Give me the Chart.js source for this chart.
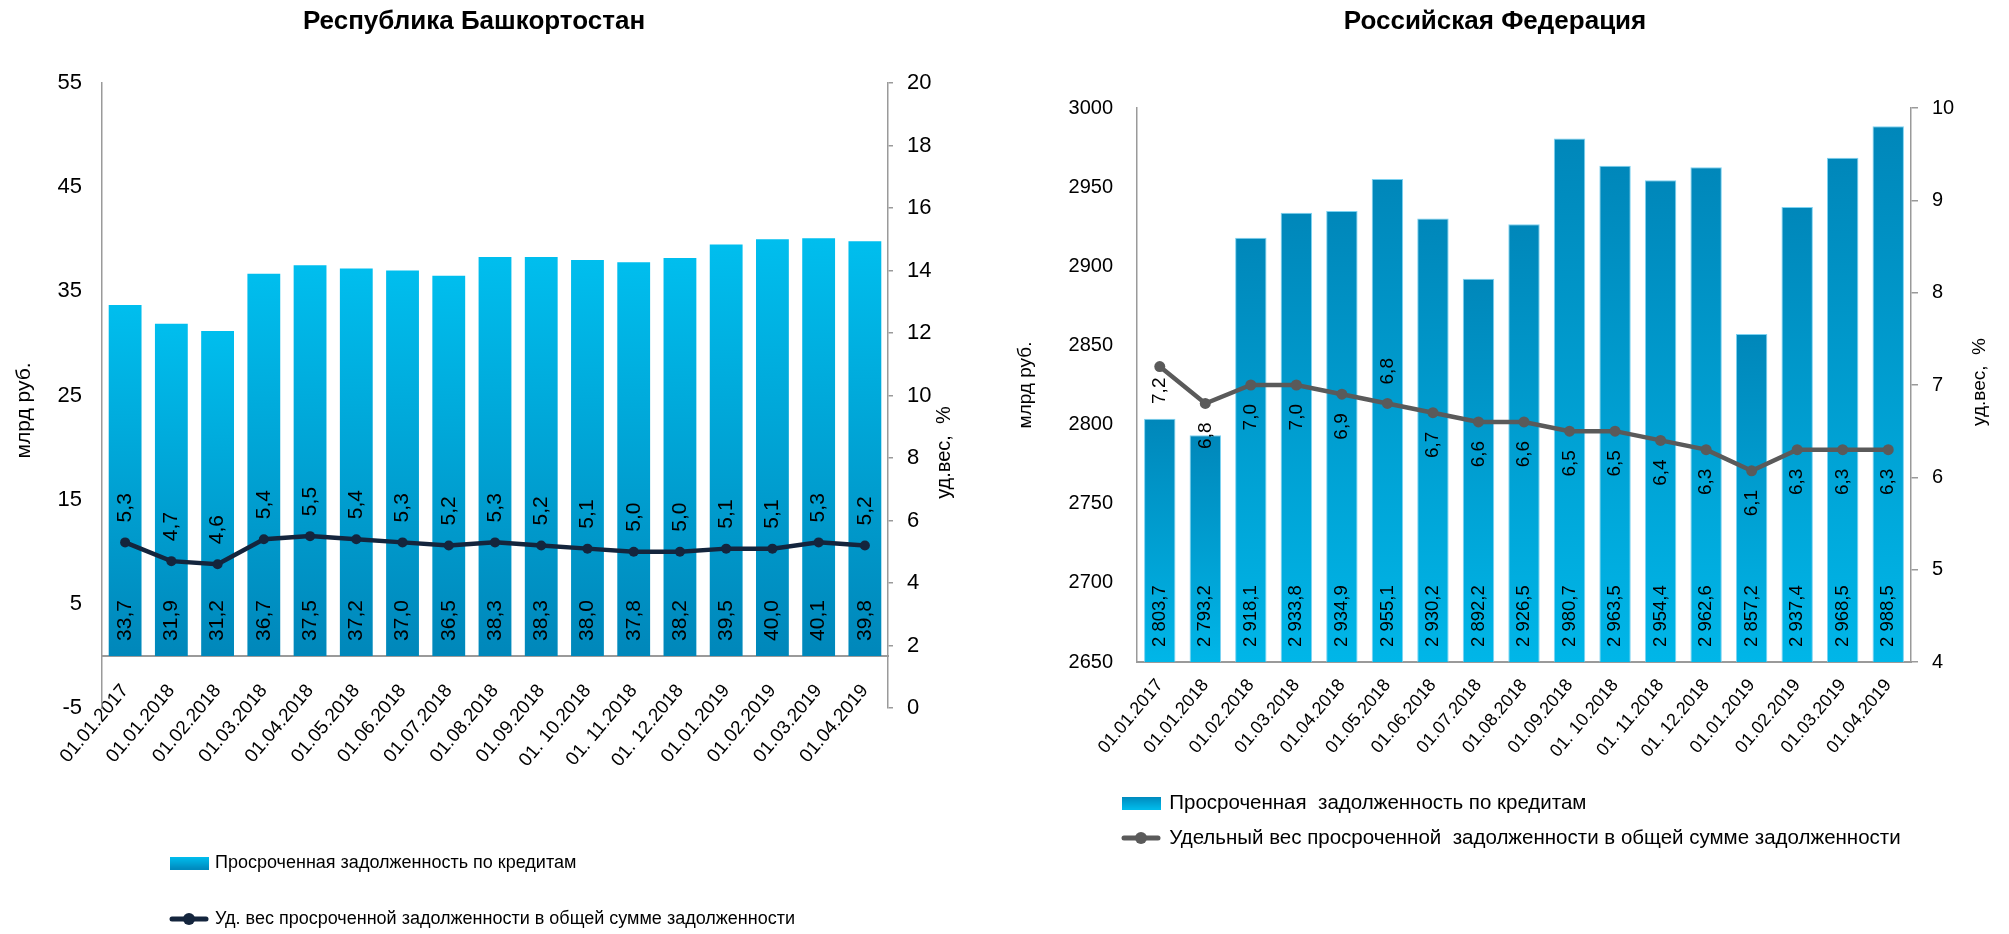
<!DOCTYPE html>
<html>
<head>
<meta charset="utf-8">
<script src="https://cdn.jsdelivr.net/npm/chart.js@4/dist/chart.umd.min.js"></script>
<style>
html,body{margin:0;padding:0;background:#fff;overflow:hidden;}
#wrap{position:relative;width:2009px;height:934px;background:#fff;}
#c1{position:absolute;left:0;top:0;}
#c2{position:absolute;left:1000px;top:0;}
</style>
</head>
<body>
<div id="wrap">
<canvas id="c1" width="1000" height="934"></canvas>
<canvas id="c2" width="1009" height="934"></canvas>
</div>
<script>
// ---------------- DATA ----------------
const categories = ['01.01.2017','01.01.2018','01.02.2018','01.03.2018','01.04.2018','01.05.2018','01.06.2018','01.07.2018','01.08.2018','01.09.2018','01. 10.2018','01. 11.2018','01. 12.2018','01.01.2019','01.02.2019','01.03.2019','01.04.2019'];

// Республика Башкортостан
const bashDebt  = [33.7, 31.9, 31.2, 36.7, 37.5, 37.2, 37.0, 36.5, 38.3, 38.3, 38.0, 37.8, 38.2, 39.5, 40.0, 40.1, 39.8];
const bashShare = [5.3, 4.7, 4.6, 5.4, 5.5, 5.4, 5.3, 5.2, 5.3, 5.2, 5.1, 5.0, 5.0, 5.1, 5.1, 5.3, 5.2];
const bashDebtTicks  = [-5, 5, 15, 25, 35, 45, 55];
const bashShareTicks = [0, 2, 4, 6, 8, 10, 12, 14, 16, 18, 20];

// Российская Федерация
const rfDebt  = [2803.7, 2793.2, 2918.1, 2933.8, 2934.9, 2955.1, 2930.2, 2892.2, 2926.5, 2980.7, 2963.5, 2954.4, 2962.6, 2857.2, 2937.4, 2968.5, 2988.5];
const rfShare = [7.2, 6.8, 7.0, 7.0, 6.9, 6.8, 6.7, 6.6, 6.6, 6.5, 6.5, 6.4, 6.3, 6.07, 6.3, 6.3, 6.3];
const rfDebtTicks  = [2650, 2700, 2750, 2800, 2850, 2900, 2950, 3000];
const rfShareTicks = [4, 5, 6, 7, 8, 9, 10];

// ---------------- HELPERS ----------------
const SANS = '"Liberation Sans", Arial, sans-serif';
const NARROW = '"Liberation Sans Narrow", "Arial Narrow", "Liberation Sans", sans-serif';
Chart.defaults.font.family = SANS;
Chart.defaults.color = '#000';

function fmt1(v) { return v.toFixed(1).replace('.', ','); }
function fmtThousands(v) {
  const p = v.toFixed(1).split('.');
  return p[0].replace(/\B(?=(\d{3})+(?!\d))/g, ' ') + ',' + p[1];
}

function barGradient(topColor, bottomColor) {
  return (c) => {
    const chart = c.chart;
    if (c.type !== 'data' || !chart.chartArea) return bottomColor;
    const meta = chart.getDatasetMeta(c.datasetIndex);
    const ys = chart.scales[meta.yAxisID];
    const v = c.parsed ? c.parsed.y : c.raw;
    const yTop = ys.getPixelForValue(v);
    const yBase = ys.getBasePixel();
    if (!isFinite(yTop) || !isFinite(yBase) || yTop === yBase) return bottomColor;
    const g = chart.ctx.createLinearGradient(0, yTop, 0, yBase);
    g.addColorStop(0, topColor);
    g.addColorStop(1, bottomColor);
    return g;
  };
}

function makeIcon(w, h, draw) {
  const c = document.createElement('canvas');
  c.width = w; c.height = h;
  draw(c.getContext('2d'), w, h);
  return c;
}
function rectIcon(top, bottom) {
  return makeIcon(39, 13, (g, w, h) => {
    const gr = g.createLinearGradient(0, 0, 0, h);
    gr.addColorStop(0, top); gr.addColorStop(1, bottom);
    g.fillStyle = gr; g.fillRect(0, 0, w, h);
  });
}
function lineIcon(color) {
  return makeIcon(40, 14, (g, w, h) => {
    g.strokeStyle = color; g.lineWidth = 5; g.lineCap = 'round';
    g.beginPath(); g.moveTo(3, h / 2); g.lineTo(w - 3, h / 2); g.stroke();
    g.fillStyle = color; g.beginPath(); g.arc(w / 2, h / 2, 6, 0, Math.PI * 2); g.fill();
  });
}

// value labels drawn rotated (reading bottom to top)
const valueLabels = {
  id: 'valueLabels',
  afterDatasetsDraw(chart) {
    const ctx = chart.ctx;
    const ca = chart.chartArea;
    chart.data.datasets.forEach((ds, di) => {
      const cfg = ds.valueLabels;
      if (!cfg) return;
      const meta = chart.getDatasetMeta(di);
      ctx.save();
      ctx.font = cfg.font;
      ctx.fillStyle = cfg.color || '#000';
      ctx.textBaseline = 'middle';
      meta.data.forEach((el, i) => {
        const text = cfg.format(ds.data[i]);
        let y, align;
        if (cfg.mode === 'base') {
          const base = Math.min(el.base, ca.bottom);
          y = base - cfg.offset; align = 'left';
        } else {
          const above = cfg.above ? cfg.above(i) : true;
          const off = cfg.offsetAt ? cfg.offsetAt(i) : cfg.offset;
          if (above) { y = el.y - off; align = 'left'; }
          else { y = el.y + off; align = 'right'; }
        }
        ctx.save();
        ctx.translate(el.x, y);
        ctx.rotate(-Math.PI / 2);
        ctx.textAlign = align;
        ctx.fillText(text, 0, 0);
        ctx.restore();
      });
      ctx.restore();
    });
  }
};

// axis titles drawn rotated -90deg
const axisTitles = {
  id: 'axisTitles',
  afterDraw(chart, args, opts) {
    const ctx = chart.ctx;
    const ca = chart.chartArea;
    (opts.items || []).forEach(t => {
      ctx.save();
      ctx.font = t.font;
      ctx.fillStyle = '#000';
      ctx.textAlign = 'center';
      ctx.textBaseline = 'middle';
      ctx.translate(t.x, (ca.top + ca.bottom) / 2 + t.dy);
      ctx.rotate(-Math.PI / 2);
      ctx.fillText(t.text, 0, 0);
      ctx.restore();
    });
  }
};

// place legend (one item per row) at a given spot below the plot
const legendPlace = {
  id: 'legendPlace',
  afterLayout(chart, args, opts) {
    const lg = chart.legend;
    if (!lg) return;
    lg.left = opts.x - opts.pad;
    lg.top = opts.y - opts.fs / 2 - opts.pad;
    lg.right = lg.left + 1200;
    lg.bottom = lg.top + 400;
    lg.width = 1200;
    lg.height = 400;
  }
};

function legendLabels(chart) {
  return chart.data.datasets.map((ds, i) => ({
    text: ds.label,
    pointStyle: ds.legendIcon,
    fillStyle: 'rgba(0,0,0,0)',
    strokeStyle: 'rgba(0,0,0,0)',
    lineWidth: 0,
    hidden: false,
    fontColor: '#000',
    datasetIndex: i
  }));
}

function fixedTicks(arr) {
  return (scale) => { scale.ticks = arr.map(v => ({ value: v })); };
}

// ---------------- CHART 1: Республика Башкортостан ----------------
new Chart(document.getElementById('c1'), {
  type: 'bar',
  data: {
    labels: categories,
    datasets: [
      {
        type: 'bar',
        label: 'Просроченная задолженность по кредитам',
        data: bashDebt,
        yAxisID: 'y',
        order: 2,
        backgroundColor: barGradient('#00BEEE', '#0087BA'),
        borderWidth: 0,
        barPercentage: 0.71,
        categoryPercentage: 1.0,
        legendIcon: rectIcon('#00C0F0', '#0088BC'),
        valueLabels: { mode: 'base', offset: 15, font: '21px ' + SANS, format: fmt1 }
      },
      {
        type: 'line',
        label: 'Уд. вес просроченной задолженности в общей сумме задолженности',
        data: bashShare,
        yAxisID: 'y1',
        order: 1,
        borderColor: '#14253D',
        backgroundColor: '#14253D',
        borderWidth: 4.5,
        pointRadius: 5,
        pointBackgroundColor: '#14253D',
        pointBorderWidth: 0,
        tension: 0,
        legendIcon: lineIcon('#14253D'),
        valueLabels: { mode: 'point', offset: 20, font: '21px ' + SANS, format: fmt1 }
      }
    ]
  },
  options: {
    responsive: false,
    animation: false,
    events: [],
    layout: { padding: { left: 0, right: 52, top: 0, bottom: 226 } },
    scales: {
      x: {
        type: 'category',
        position: { y: 0 },
        grid: { display: false, drawTicks: false },
        border: { display: true, color: '#9A9A9A', width: 2 },
        ticks: { autoSkip: false, minRotation: 50, maxRotation: 50, padding: 24, font: { size: 19 }, color: '#000' }
      },
      y: {
        position: 'left',
        min: -5, max: 55,
        afterBuildTicks: fixedTicks(bashDebtTicks),
        afterFit: (s) => { s.width = 102; },
        grid: { display: false, drawTicks: false },
        border: { display: true, color: '#9A9A9A', width: 1.5 },
        ticks: { padding: 20, font: { family: NARROW, size: 22 }, color: '#000', callback: (v) => String(v) }
      },
      y1: {
        position: 'right',
        min: 0, max: 20,
        afterBuildTicks: fixedTicks(bashShareTicks),
        afterFit: (s) => { s.width = 60; },
        grid: { display: true, drawOnChartArea: false, drawTicks: true, tickLength: 5, color: '#9A9A9A', lineWidth: 1.5 },
        border: { display: true, color: '#9A9A9A', width: 1.5 },
        ticks: { padding: 14, font: { family: NARROW, size: 22 }, color: '#000', callback: (v) => String(v) }
      }
    },
    plugins: {
      title: {
        display: true,
        text: 'Республика Башкортостан',
        color: '#000',
        font: { size: 26, weight: 'bold', family: SANS },
        padding: { top: 6.4, bottom: 45.4 }
      },
      legend: {
        display: true,
        position: 'chartArea',
        align: 'start',
        labels: {
          usePointStyle: true, pointStyleWidth: 34, boxHeight: 13,
          padding: 38, font: { size: 18 }, color: '#000',
          generateLabels: legendLabels
        }
      },
      legendPlace: { x: 172, y: 863, pad: 38, fs: 18 },
      tooltip: { enabled: false },
      axisTitles: {
        items: [
          { text: 'млрд руб.', x: 24, dy: 15, font: '21px ' + SANS },
          { text: 'уд.вес,  %', x: 944, dy: 57, font: '20px ' + SANS }
        ]
      }
    }
  },
  plugins: [valueLabels, axisTitles, legendPlace]
});

// ---------------- CHART 2: Российская Федерация ----------------
new Chart(document.getElementById('c2'), {
  type: 'bar',
  data: {
    labels: categories,
    datasets: [
      {
        type: 'bar',
        label: 'Просроченная  задолженность по кредитам',
        data: rfDebt,
        yAxisID: 'y',
        order: 2,
        backgroundColor: barGradient('#0087BA', '#00B6E8'),
        borderColor: 'rgba(110,205,240,0.9)',
        borderWidth: 1,
        barPercentage: 0.69,
        categoryPercentage: 1.0,
        legendIcon: rectIcon('#0088BC', '#00BCEC'),
        valueLabels: { mode: 'base', offset: 15, font: '18.5px ' + SANS, format: fmtThousands }
      },
      {
        type: 'line',
        label: 'Удельный вес просроченной  задолженности в общей сумме задолженности',
        data: rfShare,
        yAxisID: 'y1',
        order: 1,
        borderColor: '#5A5A5A',
        backgroundColor: '#5A5A5A',
        borderWidth: 4.5,
        pointRadius: 5.5,
        pointBackgroundColor: '#5A5A5A',
        pointBorderWidth: 0,
        tension: 0,
        legendIcon: lineIcon('#5A5A5A'),
        valueLabels: {
          mode: 'point', font: '19px ' + SANS, format: fmt1,
          above: (i) => i === 5,
          offsetAt: (i) => (i === 0 ? 11 : 19)
        }
      }
    ]
  },
  options: {
    responsive: false,
    animation: false,
    events: [],
    layout: { padding: { left: 0, right: 19, top: 0, bottom: 272 } },
    scales: {
      x: {
        type: 'category',
        position: { y: 2650 },
        grid: { display: false, drawTicks: false },
        border: { display: true, color: '#9A9A9A', width: 2 },
        ticks: { autoSkip: false, minRotation: 50, maxRotation: 50, padding: 13, font: { size: 18 }, color: '#000' }
      },
      y: {
        position: 'left',
        min: 2650, max: 3000,
        afterBuildTicks: fixedTicks(rfDebtTicks),
        afterFit: (s) => { s.width = 137; },
        grid: { display: false, drawTicks: false },
        border: { display: true, color: '#9A9A9A', width: 1.5 },
        ticks: { padding: 24, font: { size: 20 }, color: '#000', callback: (v) => String(v) }
      },
      y1: {
        position: 'right',
        min: 4, max: 10,
        afterBuildTicks: fixedTicks(rfShareTicks),
        afterFit: (s) => { s.width = 79; },
        grid: { display: true, drawOnChartArea: false, drawTicks: true, tickLength: 7, color: '#9A9A9A', lineWidth: 1.5 },
        border: { display: true, color: '#9A9A9A', width: 1.5 },
        ticks: { padding: 14, font: { size: 20 }, color: '#000', callback: (v) => String(v) }
      }
    },
    plugins: {
      title: {
        display: true,
        text: 'Российская Федерация',
        color: '#000',
        font: { size: 26, weight: 'bold', family: SANS },
        padding: { top: 6.4, bottom: 70.4 }
      },
      legend: {
        display: true,
        position: 'chartArea',
        align: 'start',
        labels: {
          usePointStyle: true, pointStyleWidth: 36, boxHeight: 13,
          padding: 14.5, font: { size: 20.5 }, color: '#000',
          generateLabels: legendLabels
        }
      },
      legendPlace: { x: 123, y: 803, pad: 14.5, fs: 20.5 },
      tooltip: { enabled: false },
      axisTitles: {
        items: [
          { text: 'млрд руб.', x: 26, dy: 0, font: '19px ' + SANS },
          { text: 'уд.вес,  %', x: 980, dy: -3, font: '19px ' + SANS }
        ]
      }
    }
  },
  plugins: [valueLabels, axisTitles, legendPlace]
});
</script>
</body>
</html>
